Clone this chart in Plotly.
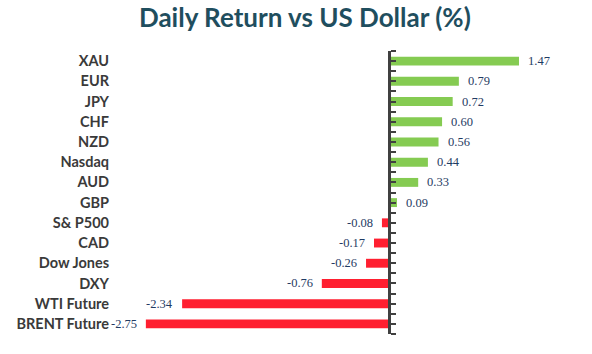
import plotly.graph_objects as go

categories = ["XAU", "EUR", "JPY", "CHF", "NZD", "Nasdaq", "AUD", "GBP",
              "S& P500", "CAD", "Dow Jones", "DXY", "WTI Future", "BRENT Future"]
values = [1.47, 0.79, 0.72, 0.60, 0.56, 0.44, 0.33, 0.09,
          -0.08, -0.17, -0.26, -0.76, -2.34, -2.75]

GREEN = "#85CB52"
RED = "#FF1F30"
AXIS = "#404040"
LABEL = "#1F3B63"

positions = list(range(len(categories)))
xmin, xmax = -3.133, 2.16
ymin, ymax = len(categories) - 0.5, -0.5

colors = [GREEN if v >= 0 else RED for v in values]

fig = go.Figure()
fig.add_trace(go.Bar(
    x=values, y=positions, orientation="h",
    marker=dict(color=colors, line=dict(width=0)),
    width=0.44, hoverinfo="x+y",
))
# invisible helper trace so the zero-line axis is drawn
fig.add_trace(go.Scatter(x=values, y=positions, yaxis="y2", mode="markers",
                         marker=dict(opacity=0), hoverinfo="skip", showlegend=False))

for v, p in zip(values, positions):
    fig.add_annotation(
        x=v, y=p, text=f"{v:.2f}", showarrow=False,
        xanchor="left" if v >= 0 else "right",
        xshift=7 if v >= 0 else -7,
        font=dict(family="Liberation Serif", size=12.5, color=LABEL),
    )

fig.update_layout(
    width=592, height=354,
    margin=dict(l=112, r=12, t=51, b=20),
    paper_bgcolor="white", plot_bgcolor="white",
    showlegend=False,
    title=dict(text="<b>Daily Return vs US Dollar (%)</b>", x=0.515, xanchor="center",
               yref="container", y=0.975, yanchor="top",
               font=dict(family="Lato", size=26, color="#1F4E5E")),
    xaxis=dict(range=[xmin, xmax], visible=False, showgrid=False, zeroline=False),
    yaxis=dict(range=[ymin, ymax], tickvals=positions, ticktext=categories,
               ticks="", showline=False, showgrid=False, zeroline=False,
               tickfont=dict(family="Lato", size=14.5, color="#3A3A3A", weight="bold"),
               ticklabelstandoff=2),
    yaxis2=dict(range=[ymin, ymax], overlaying="y", anchor="free",
                position=(0 - xmin) / (xmax - xmin), side="right",
                tickvals=[i * 0.5 - 0.5 for i in range(2 * len(categories) + 1)],
                ticks="outside", ticklen=5, tickwidth=2, tickcolor=AXIS,
                showticklabels=False, showline=True, linecolor=AXIS, linewidth=2.5,
                showgrid=False, zeroline=False),
)

fig.write_html("out.html")
